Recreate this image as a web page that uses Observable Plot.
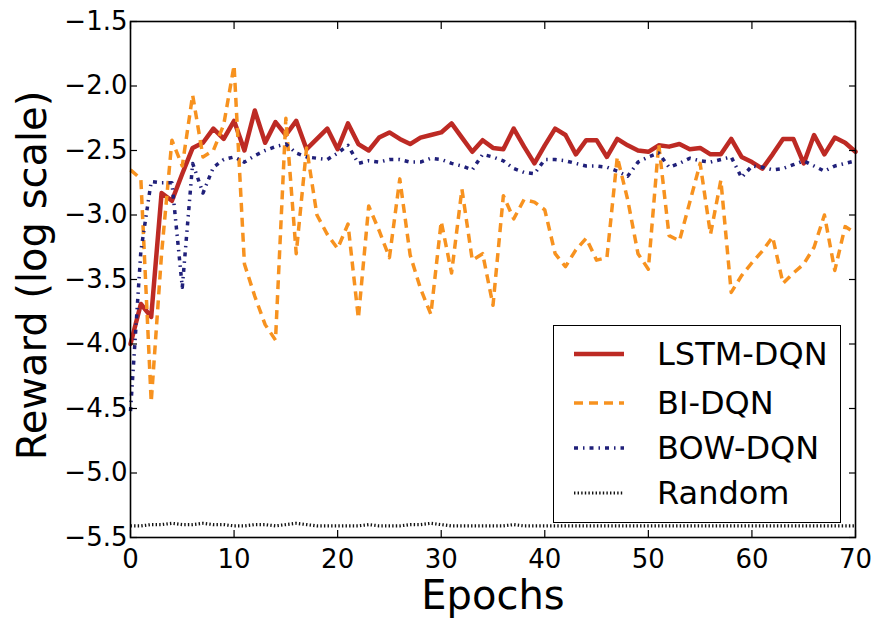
<!DOCTYPE html>
<html>
<head>
<meta charset="utf-8">
<script src="https://cdn.jsdelivr.net/npm/d3@7"></script>
<script src="https://cdn.jsdelivr.net/npm/@observablehq/plot@0.6"></script>
<style>
  body { margin: 0; background: #fff; }
  #wrap { position: relative; width: 876px; height: 622px; font-family: "DejaVu Sans", sans-serif; }
  #legend { position: absolute; left: 553px; top: 325px; width: 288px; height: 198px; border: 1.5px solid #000; background: #fff; box-sizing: border-box; }
  .row { position: absolute; left: 0; width: 100%; height: 40px; }
  .row svg { position: absolute; left: 19px; top: 14px; }
  .row span { position: absolute; left: 103px; top: 0; font-size: 32px; line-height: 40px; color: #000; white-space: nowrap; }
</style>
</head>
<body>
<div id="wrap"><div id="legend"></div></div>
<script>
const epochs = [0,1,2,3,4,5,6,7,8,9,10,11,12,13,14,15,16,17,18,19,20,21,22,23,24,25,26,27,28,29,30,31,32,33,34,35,36,37,38,39,40,41,42,43,44,45,46,47,48,49,50,51,52,53,54,55,56,57,58,59,60,61,62,63,64,65,66,67,68,69,70];

const lstmDQN = [
  -4.00,-3.69,-3.79,-2.83,-2.89,-2.68,-2.48,-2.44,-2.33,-2.41,
  -2.27,-2.50,-2.19,-2.44,-2.28,-2.38,-2.27,-2.49,-2.41,-2.33,
  -2.49,-2.29,-2.45,-2.50,-2.40,-2.36,-2.41,-2.45,-2.40,-2.38,
  -2.36,-2.29,-2.40,-2.51,-2.42,-2.48,-2.49,-2.33,-2.47,-2.60,
  -2.46,-2.33,-2.38,-2.53,-2.42,-2.42,-2.55,-2.41,-2.46,-2.50,
  -2.51,-2.46,-2.47,-2.45,-2.49,-2.48,-2.53,-2.53,-2.41,-2.55,
  -2.59,-2.64,-2.53,-2.41,-2.41,-2.60,-2.38,-2.53,-2.40,-2.44,
  -2.51
];
const biDQN = [
  -2.65,-2.72,-4.45,-3.30,-2.42,-2.62,-2.07,-2.55,-2.50,-2.30,
  -1.84,-3.38,-3.63,-3.85,-3.97,-2.25,-3.30,-2.48,-3.00,-3.15,
  -3.26,-3.07,-3.80,-2.93,-3.12,-3.33,-2.72,-3.31,-3.57,-3.77,
  -3.05,-3.45,-2.80,-3.35,-3.30,-3.70,-2.85,-3.03,-2.88,-2.90,
  -2.96,-3.30,-3.40,-3.27,-3.18,-3.35,-3.33,-2.55,-2.88,-3.30,
  -3.42,-2.45,-3.16,-3.20,-2.90,-2.60,-3.15,-2.73,-3.60,-3.47,
  -3.37,-3.28,-3.17,-3.53,-3.45,-3.38,-3.25,-3.00,-3.43,-3.09,
  -3.14
];
const bowDQN = [
  -4.52,-3.28,-2.74,-2.75,-2.75,-3.56,-2.60,-2.83,-2.63,-2.57,
  -2.55,-2.59,-2.54,-2.50,-2.47,-2.45,-2.52,-2.55,-2.56,-2.57,
  -2.52,-2.46,-2.60,-2.58,-2.59,-2.57,-2.57,-2.59,-2.59,-2.56,
  -2.57,-2.60,-2.62,-2.65,-2.53,-2.55,-2.58,-2.64,-2.67,-2.68,
  -2.57,-2.57,-2.58,-2.60,-2.62,-2.62,-2.63,-2.66,-2.70,-2.59,
  -2.55,-2.52,-2.63,-2.60,-2.56,-2.58,-2.59,-2.57,-2.55,-2.71,
  -2.62,-2.63,-2.65,-2.64,-2.61,-2.58,-2.62,-2.66,-2.62,-2.60,
  -2.58
];
const randomAgent = [
  -5.41,-5.41,-5.40,-5.40,-5.39,-5.40,-5.40,-5.39,-5.40,-5.40,
  -5.41,-5.41,-5.40,-5.40,-5.41,-5.40,-5.39,-5.40,-5.41,-5.41,
  -5.41,-5.41,-5.41,-5.40,-5.41,-5.41,-5.41,-5.40,-5.40,-5.39,
  -5.40,-5.41,-5.41,-5.41,-5.41,-5.41,-5.41,-5.40,-5.41,-5.41,
  -5.41,-5.41,-5.41,-5.41,-5.41,-5.41,-5.41,-5.41,-5.41,-5.41,
  -5.41,-5.41,-5.41,-5.41,-5.41,-5.41,-5.41,-5.41,-5.41,-5.41,
  -5.41,-5.41,-5.41,-5.41,-5.41,-5.41,-5.41,-5.41,-5.41,-5.41,
  -5.41
];

const seriesNames = ["LSTM-DQN", "BI-DQN", "BOW-DQN", "Random"];
const seriesValues = [lstmDQN, biDQN, bowDQN, randomAgent];
const seriesColors = ["#bd2a24", "#f7921f", "#20207a", "#111111"];
const seriesWidths = [4.5, 3.5, 3.5, 3.2];
const seriesDash = [null, "9,6", "4,5,1.5,5", "1.4,2.2"];

const xTicks = [0,10,20,30,40,50,60,70];
const yTicks = [-5.5,-5.0,-4.5,-4.0,-3.5,-3.0,-2.5,-2.0,-1.5];
const xLabel = "Epochs";
const yLabel = "Reward (log scale)";

const fmt = d => (d < 0 ? "\u2212" : "") + Math.abs(d).toFixed(1);
const none = () => "";

const lineMarks = seriesNames.map((name, k) => {
  const rows = epochs.map((e, i) => ({epoch: e, value: seriesValues[k][i]}));
  const opts = {x: "epoch", y: "value", stroke: seriesColors[k], strokeWidth: seriesWidths[k], strokeLinejoin: "round"};
  if (seriesDash[k]) { opts.strokeDasharray = seriesDash[k]; opts.strokeLinecap = "butt"; }
  return Plot.line(rows, opts);
});

const chart = Plot.plot({
  width: 876,
  height: 622,
  marginLeft: 130,
  marginRight: 21,
  marginTop: 21,
  marginBottom: 85,
  style: {fontFamily: "'DejaVu Sans', sans-serif", background: "white", color: "black", overflow: "visible"},
  x: {domain: [0, 70]},
  y: {domain: [-5.5, -1.5]},
  marks: [
    ...lineMarks,
    Plot.axisX(xTicks, {tickSize: 0, tickPadding: 12, label: null, fontSize: 26}),
    Plot.axisX(xTicks, {tickSize: -7, tickFormat: none, label: null, strokeWidth: 1.2}),
    Plot.axisX(xTicks, {anchor: "top", tickSize: -7, tickFormat: none, label: null, strokeWidth: 1.2}),
    Plot.axisY(yTicks, {tickSize: 0, tickPadding: 3, tickFormat: fmt, label: null, fontSize: 26}),
    Plot.axisY(yTicks, {tickSize: -7, tickFormat: none, label: null, strokeWidth: 1.2}),
    Plot.axisY(yTicks, {anchor: "right", tickSize: -7, tickFormat: none, label: null, strokeWidth: 1.2}),
    Plot.frame({stroke: "black", strokeWidth: 1.6}),
    Plot.text([xLabel], {frameAnchor: "bottom", dy: 71, lineAnchor: "bottom", textAnchor: "middle", fontSize: 40, fill: "black"}),
    Plot.text([yLabel], {frameAnchor: "left", dy: -4, dx: -85, rotate: -90, lineAnchor: "bottom", textAnchor: "middle", fontSize: 40, fill: "black"})
  ]
});
const wrap = document.getElementById("wrap");
wrap.insertBefore(chart, wrap.firstChild);

// Legend
const legend = document.getElementById("legend");
const rowCenters = [28, 77, 122, 167];
seriesNames.forEach((name, k) => {
  const row = document.createElement("div");
  row.className = "row";
  row.style.top = (rowCenters[k] - 20) + "px";
  const dash = seriesDash[k] ? `stroke-dasharray="${seriesDash[k]}"` : "";
  row.innerHTML = `<svg width="52" height="12"><line x1="1" y1="6" x2="51" y2="6" stroke="${seriesColors[k]}" stroke-width="${seriesWidths[k]}" ${dash}/></svg><span>${name}</span>`;
  legend.appendChild(row);
});
</script>
</body>
</html>
